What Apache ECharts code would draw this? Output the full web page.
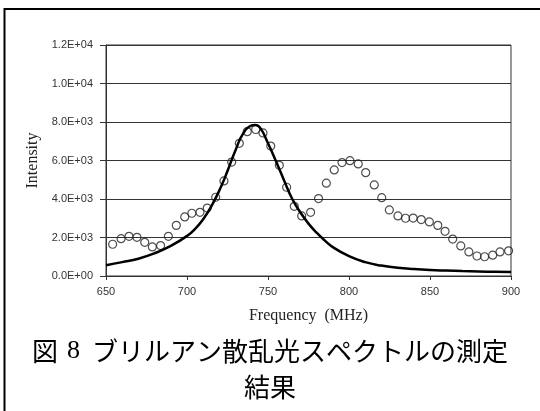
<!DOCTYPE html>
<html>
<head>
<meta charset="utf-8">
<script src="https://cdn.jsdelivr.net/npm/echarts@6/dist/echarts.min.js"></script>
<style>
    html, body { margin: 0; padding: 0; background: #fff; }
    #main { width: 540px; height: 411px; }
</style>
</head>
<body>
<div id="main"></div>
<script>
    // 測定値（○）
    var measFreq = [654.1, 659.3, 664.2, 669.1, 673.9, 678.6, 683.7, 688.5, 693.4, 698.6, 703.0, 708.0, 712.5, 717.7, 722.8, 727.6, 732.3,
        737.2, 742.4, 746.9, 751.7, 757.0, 761.5, 766.2, 770.8, 776.3, 781.2, 786.0, 790.9, 795.7, 800.6, 805.7, 810.3,
        815.6, 820.2, 824.9, 830.2, 834.9, 839.6, 844.6, 849.6, 854.8, 859.3, 864.0, 869.0, 874.0, 879.0, 883.7, 888.7, 893.2, 898.5];
    var measInt = [1650, 1940, 2060, 2010, 1750, 1510, 1580, 2060, 2630, 3070, 3260, 3310, 3530, 4090, 4940, 5920, 6890,
        7500, 7610, 7430, 6750, 5750, 4610, 3620, 3120, 3310, 4020, 4820, 5510, 5890, 5990, 5820, 5370,
        4730, 4070, 3430, 3120, 3000, 3010, 2930, 2810, 2630, 2320, 1920, 1560, 1250, 1040, 1000, 1080, 1250, 1310];

    // フィッティング曲線（実線）
    var fitFreq = [650, 660, 670, 680, 690, 700, 705, 710, 715, 720, 725, 730, 735, 740, 742, 745, 750, 755, 760, 765, 770, 775, 780,
        785, 790, 800, 810, 820, 830, 840, 850, 860, 870, 880, 890, 900];
    var fitInt = [560, 720, 900, 1180, 1560, 2080, 2450, 2950, 3620, 4450, 5450, 6550, 7450, 7820, 7850, 7720, 6900, 5950, 4950, 4000,
        3300, 2720, 2250, 1850, 1500, 1030, 720, 540, 430, 360, 310, 280, 255, 235, 220, 210];

    var yTicks = [0, 2000, 4000, 6000, 8000, 10000, 12000];

    function sci(v) {
        if (v === 0) return '0.0E+00';
        var e = Math.floor(Math.log10(v));
        var m = (v / Math.pow(10, e)).toFixed(1);
        return m + 'E+' + (e < 10 ? '0' + e : e);
    }

    var meas = measFreq.map(function (f, i) { return [f, measInt[i]]; });
    var fit = fitFreq.map(function (f, i) { return [f, fitInt[i]]; });

    var myChart = echarts.init(document.getElementById('main'));
    var option = {
        animation: false,
        backgroundColor: '#fff',
        title: {
            text: '{j|図}{n|8}{j|ブリルアン散乱光スペクトルの測定}\n{j|結果}',
            left: 'center',
            top: 328,
            textStyle: {
                fontSize: 26,
                fontWeight: 'normal',
                lineHeight: 36,
                color: '#000',
                rich: {
                    j: { fontFamily: 'Noto Sans CJK JP', fontSize: 26, color: '#000', lineHeight: 36 },
                    n: { fontFamily: 'Liberation Serif', fontSize: 26, color: '#000', lineHeight: 36, padding: [0, 12, 0, 9] }
                }
            }
        },
        graphic: [
            { type: 'line', shape: { x1: 4.5, y1: 8, x2: 4.5, y2: 411 }, style: { stroke: '#000', lineWidth: 2 } },
            { type: 'line', shape: { x1: 4, y1: 9, x2: 540, y2: 9 }, style: { stroke: '#000', lineWidth: 2 } }
        ],
        grid: {
            left: 106, right: 29, top: 45, bottom: 135,
            show: true, borderColor: '#333', borderWidth: 1
        },
        xAxis: {
            type: 'value',
            min: 650, max: 900, interval: 50,
            name: 'Frequency  (MHz)',
            nameLocation: 'middle',
            nameGap: 32,
            nameTextStyle: { fontFamily: 'Liberation Serif', fontSize: 16, color: '#222' },
            axisLine: { lineStyle: { color: '#333', width: 1 } },
            axisTick: { length: 4, lineStyle: { color: '#333' } },
            axisLabel: { margin: 10, fontFamily: 'Liberation Sans', fontSize: 11, color: '#333' },
            splitLine: { show: false }
        },
        yAxis: {
            type: 'value',
            min: 0, max: 12000, interval: 2000,
            name: 'Intensity',
            nameLocation: 'middle',
            nameGap: 60,
            nameTextStyle: { fontFamily: 'Liberation Serif', fontSize: 16, color: '#222' },
            axisLine: { show: true, lineStyle: { color: '#333', width: 1 } },
            axisTick: { show: true, length: 6, lineStyle: { color: '#333' } },
            axisLabel: {
                margin: 13, fontFamily: 'Liberation Sans', fontSize: 11, color: '#333',
                formatter: function (v) { return yTicks.indexOf(v) >= 0 ? sci(v) : ''; }
            },
            splitLine: { show: true, lineStyle: { color: '#333', width: 1 } }
        },
        series: [
            {
                name: 'measured',
                type: 'scatter',
                data: meas,
                symbol: 'circle',
                symbolSize: 8,
                itemStyle: { color: 'rgba(255,255,255,0)', borderColor: '#222', borderWidth: 1.2 }
            },
            {
                name: 'fit',
                type: 'line',
                data: fit,
                smooth: true,
                showSymbol: false,
                lineStyle: { color: '#000', width: 2.5 }
            }
        ]
    };
    myChart.setOption(option);
</script>
</body>
</html>
